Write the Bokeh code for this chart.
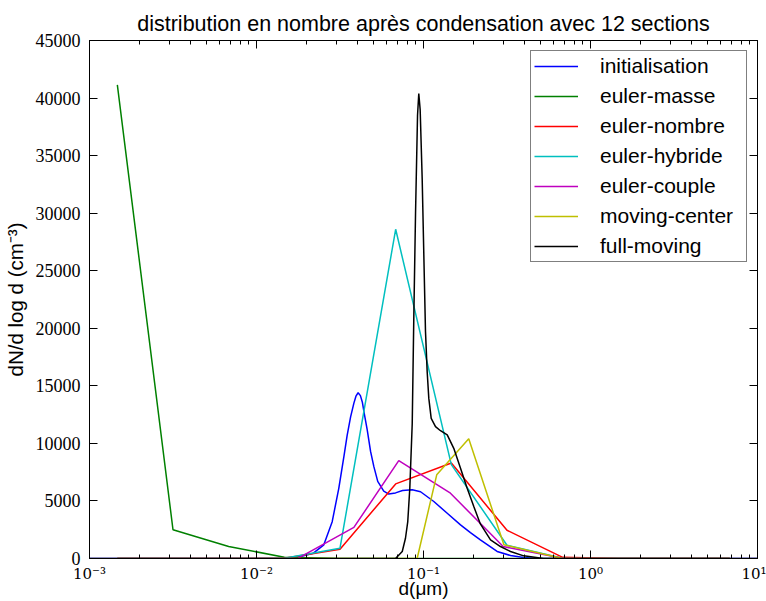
from bokeh.plotting import figure
from bokeh.models import (LogAxis, LinearAxis, FixedTicker, CustomJSTickFormatter,
                          Legend, LegendItem, Range1d)
from bokeh.embed import file_html
from bokeh.resources import INLINE

title_text = "distribution en nombre après condensation avec 12 sections"
x_label = "d(\u03bcm)"
y_label = "dN/d log d (cm\u207b\u00b3)"

x_ticks = [0.001, 0.01, 0.1, 1.0, 10.0]
y_ticks = [0, 5000, 10000, 15000, 20000, 25000, 30000, 35000, 40000, 45000]

# section centres (12 sections)
sections = [0.001468, 0.003162, 0.006813, 0.01468, 0.03162, 0.06813,
            0.1468, 0.3162, 0.6813, 1.468, 3.162, 6.813]

init_d = [0.001, 0.01, 0.0160, 0.0191, 0.0219, 0.0253, 0.0284, 0.0311, 0.0334,
          0.0349, 0.0366, 0.0383, 0.0394, 0.0406, 0.0419, 0.0430, 0.0443, 0.0460,
          0.0482, 0.0504, 0.0532, 0.0578, 0.0619, 0.0680, 0.0749, 0.0856, 0.0960,
          0.1153, 0.1387, 0.1666, 0.191, 0.219, 0.276, 0.332, 0.397, 0.482, 1.0, 10.0]
init_n = [0, 0, 0, 230, 460, 1190, 3200, 6100, 8900,
          10700, 12300, 13500, 14100, 14400, 14150, 13600, 12500, 11200,
          9300, 8000, 6700, 5850, 5600, 5700, 5900, 5980, 5800,
          4950, 3930, 2925, 2250, 1620, 610, 260, 90, 0, 0, 0]

masse_n = [41150, 2500, 1050, 100, 0, 0, 0, 0, 0, 0, 0, 0]
nombre_n = [0, 0, 0, 20, 800, 6480, 8300, 2450, 100, 0, 0, 0]
hybride_n = [0, 0, 0, 20, 900, 28600, 8150, 1150, 20, 0, 0, 0]

couple_d = [0.001468, 0.003162, 0.006813, 0.01468, 0.0178, 0.0383, 0.0711,
            0.145, 0.30, 0.68, 1.468, 3.162, 6.813]
couple_n = [0, 0, 0, 0, 30, 2700, 8500, 5670, 1040, 30, 0, 0, 0]

center_d = [0.001468, 0.003162, 0.006813, 0.01468, 0.03162, 0.06813, 0.0916,
            0.120, 0.1866, 0.303, 0.68, 1.468, 3.162, 6.813]
center_n = [0, 0, 0, 0, 0, 0, 0, 7270, 10400, 1190, 0, 0, 0, 0]

full_d = [0.001, 0.068, 0.0746, 0.0780, 0.0805, 0.0828, 0.0856, 0.0875, 0.0896,
          0.0921, 0.0937, 0.0955, 0.0982, 0.1004, 0.1028, 0.1052, 0.1076, 0.1112,
          0.1180, 0.1264, 0.1387, 0.1518, 0.1666, 0.1826, 0.2001, 0.219, 0.252,
          0.289, 0.332, 0.398, 0.523, 10.0]
full_n = [0, 0, 610, 1760, 3210, 6100, 11700, 21000, 30000,
          38500, 40400, 39000, 33000, 26500, 19700, 16230, 13910, 12180,
          11460, 11100, 10740, 9570, 7840, 6100, 4510, 3000, 1620,
          1040, 610, 230, 0, 0]

series = [
    ("initialisation", init_d, init_n, "#0000ff"),
    ("euler-masse", sections, masse_n, "#008000"),
    ("euler-nombre", sections, nombre_n, "#ff0000"),
    ("euler-hybride", sections, hybride_n, "#00bfbf"),
    ("euler-couple", couple_d, couple_n, "#bf00bf"),
    ("moving-center", center_d, center_n, "#bfbf00"),
    ("full-moving", full_d, full_n, "#000000"),
]

p = figure(width=766, height=601, x_axis_type="log",
           x_range=Range1d(1e-3, 10), y_range=Range1d(0, 45000),
           output_backend="svg", toolbar_location=None,
           min_border_left=89, min_border_right=9,
           min_border_top=40, min_border_bottom=43)
p.grid.visible = False
p.outline_line_color = "black"
p.outline_line_width = 1
p.background_fill_color = "white"
p.border_fill_color = "white"

p.title.text = title_text
p.title.align = "center"
p.title.text_font = "Liberation Sans"
p.title.text_font_size = "21.5px"
p.title.text_font_style = "normal"
p.title.text_color = "black"
p.title.standoff = 9

minor = [m * 10.0 ** k for k in range(-3, 1) for m in range(2, 10)]
fmt = CustomJSTickFormatter(code="""
const e = Math.round(Math.log10(tick));
const sup = {'-':'\\u207b','0':'\\u2070','1':'\\u00b9','2':'\\u00b2','3':'\\u00b3'};
return '10' + String(e).split('').map(c => sup[c]).join('');
""")

xa = p.xaxis[0]
xa.ticker = FixedTicker(ticks=x_ticks, minor_ticks=minor)
xa.formatter = fmt
xa.axis_label = x_label
ya = p.yaxis[0]
ya.ticker = FixedTicker(ticks=y_ticks)
ya.axis_label = y_label

top = LogAxis(ticker=FixedTicker(ticks=x_ticks, minor_ticks=minor))
right = LinearAxis(ticker=FixedTicker(ticks=y_ticks))
p.add_layout(top, "above")
p.add_layout(right, "right")

for ax in [xa, top]:
    ax.major_tick_in = 8
    ax.major_tick_out = 0
    ax.minor_tick_in = 4
    ax.minor_tick_out = 0
    ax.minor_tick_line_color = "black"
for ax in [ya, right]:
    ax.major_tick_in = 8
    ax.major_tick_out = 0
    ax.minor_tick_line_color = None
for ax in [xa, ya, top, right]:
    ax.axis_line_color = "black"
    ax.major_tick_line_color = "black"
    ax.major_label_text_font = "Liberation Serif"
    ax.major_label_text_font_size = "18px"
    ax.major_label_text_color = "black"
    ax.axis_label_text_font = "Liberation Sans"
    ax.axis_label_text_font_size = "19px"
    ax.axis_label_text_font_style = "normal"
    ax.axis_label_text_color = "black"
for ax in [top, right]:
    ax.major_label_text_font_size = "1px"
    ax.major_label_text_alpha = 0.0
    ax.major_label_standoff = 0
xa.major_label_text_font = "DejaVu Serif"
xa.major_label_text_font_size = "15px"
xa.major_label_standoff = 6
xa.axis_label_standoff = -8
ya.major_label_standoff = 9
ya.axis_label_standoff = 6
ya.axis_label_text_font_size = "20.5px"

items = []
for name, d, n, col in series:
    r = p.line(d, n, line_color=col, line_width=1.5)
    items.append(LegendItem(label=name, renderers=[r]))

legend = Legend(items=items, location="top_right")
legend.margin = 10
legend.padding = 3
legend.spacing = 6
legend.label_height = 22
legend.glyph_height = 22
legend.glyph_width = 44
legend.label_standoff = 22
legend.label_width = 143
legend.label_text_font = "Liberation Sans"
legend.label_text_font_size = "21px"
legend.label_text_color = "black"
legend.border_line_color = "black"
legend.border_line_width = 1
legend.background_fill_alpha = 1.0
p.add_layout(legend)

open("out.html", "w", encoding="utf-8").write(file_html(p, INLINE))
